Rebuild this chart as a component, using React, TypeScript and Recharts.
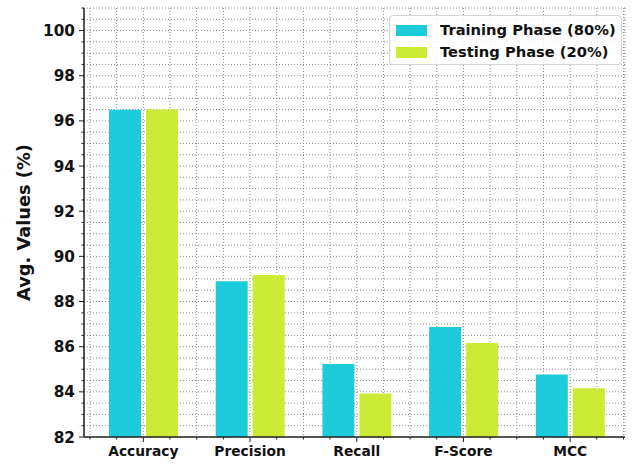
import { BarChart, Bar, XAxis, YAxis, CartesianGrid, Legend } from "recharts"

const metrics = ["Accuracy", "Precision", "Recall", "F-Score", "MCC"]
const trainingValues = [96.49, 88.9, 85.23, 86.87, 84.77]
const testingValues = [96.5, 89.17, 83.93, 86.16, 84.16]

const seriesNames = ["Training Phase (80%)", "Testing Phase (20%)"]
const seriesColors = ["#1ecbda", "#cbeb34"]

const yMajorTicks = [82, 84, 86, 88, 90, 92, 94, 96, 98, 100]
// minor ticks every 0.5 from 82 to 101
const yAllTicks = Array.from({ length: 39 }, (_, i) => 82 + i * 0.5)
// quarter steps across categories: vertical grid, minor ticks, and the labelled centers
const xQuarterTicks = Array.from({ length: 21 }, (_, i) => -0.5 + i * 0.25)

const data = metrics.map((metric, i) => ({
    metric,
    idx: i,
    training: trainingValues[i],
    testing: testingValues[i],
}))

const FONT = "'DejaVu Sans', sans-serif"
const AXIS = "#222"
const xPad = { left: 6, right: 1.5 }

function YTick(props: any) {
    const { x, y, payload } = props
    const v = payload.value
    const major = yMajorTicks.includes(v)
    return (
        <g>
            <line x1={x} x2={x - (major ? 5 : 2.5)} y1={y} y2={y} stroke={AXIS} strokeWidth={1} />
            {major && (
                <text
                    x={x - 9}
                    y={y}
                    dy="0.36em"
                    textAnchor="end"
                    fontFamily={FONT}
                    fontWeight="bold"
                    fontSize={15.3}
                    fill="#111"
                >
                    {v}
                </text>
            )}
        </g>
    )
}

function XTick(props: any) {
    const { x, y, payload } = props
    const v = payload.value
    const major = Number.isInteger(v) && v >= 0 && v < metrics.length
    return (
        <g>
            <line x1={x} x2={x} y1={y} y2={y + (major ? 5 : 2.5)} stroke={AXIS} strokeWidth={1} />
            {major && (
                <text
                    x={x}
                    y={y + 9}
                    dy="0.71em"
                    textAnchor="middle"
                    fontFamily={FONT}
                    fontWeight="bold"
                    fontSize={13.8}
                    fill="#111"
                >
                    {metrics[v]}
                </text>
            )}
        </g>
    )
}

function LegendBox() {
    return (
        <div
            style={{
                width: 233,
                height: 50,
                boxSizing: "border-box",
                border: "1px solid #d4d4d4",
                borderRadius: 4,
                background: "rgba(255,255,255,0.85)",
                fontFamily: FONT,
                fontWeight: "bold",
                fontSize: 14.7,
                color: "#111",
                paddingTop: 3,
            }}
        >
            {seriesNames.map((name, i) => (
                <div key={name} style={{ display: "flex", alignItems: "center", height: 22, marginLeft: 6 }}>
                    <span style={{ width: 31, height: 11, background: seriesColors[i], display: "inline-block" }} />
                    <span style={{ marginLeft: 13, lineHeight: "22px" }}>{name}</span>
                </div>
            ))}
        </div>
    )
}

export default function App() {
    return (
        <div style={{ position: "absolute", left: 0, top: 0, background: "#fff" }}>
            <BarChart
                width={636}
                height={465}
                data={data}
                margin={{ top: 8, right: 11, left: 0, bottom: 0 }}
                barSize={32}
                barGap={5}
            >
                <CartesianGrid
                    xAxisId="q"
                    stroke="#8c8c8c"
                    strokeDasharray="1 2"
                    strokeWidth={1}
                />
                <XAxis
                    xAxisId="q"
                    type="number"
                    dataKey="idx"
                    domain={[-0.5, 4.5]}
                    ticks={xQuarterTicks}
                    interval={0}
                    padding={xPad}
                    height={28}
                    tickSize={0}
                    tickMargin={0}
                    tickLine={false}
                    axisLine={{ stroke: AXIS, strokeWidth: 1.5 }}
                    tick={XTick}
                />
                {/* band axis that places the bars */}
                <XAxis dataKey="metric" padding={xPad} height={0} hide />
                <XAxis xAxisId="top" orientation="top" dataKey="metric" height={0} tick={false} tickLine={false} axisLine={{ stroke: AXIS, strokeWidth: 1.5 }} />
                <YAxis
                    domain={[82, 101]}
                    ticks={yAllTicks}
                    interval={0}
                    allowDataOverflow
                    width={84}
                    tickSize={0}
                    tickMargin={0}
                    axisLine={{ stroke: AXIS, strokeWidth: 1.5 }}
                    tickLine={false}
                    tick={YTick}
                    label={{
                        value: "Avg. Values (%)",
                        angle: -90,
                        position: "insideLeft",
                        dx: 19,
                        style: { fontFamily: FONT, fontWeight: "bold", fontSize: 17.8, fill: "#111", textAnchor: "middle" },
                    }}
                />
                <YAxis yAxisId="right" orientation="right" domain={[82, 101]} width={0} tick={false} tickLine={false} axisLine={{ stroke: AXIS, strokeWidth: 1.5 }} />
                <Legend
                    layout="horizontal"
                    verticalAlign="middle"
                    align="center"
                    content={() => <LegendBox />}
                    wrapperStyle={{ top: 15, left: 389, width: 233, height: 50 }}
                />
                <Bar dataKey="training" name={seriesNames[0]} fill={seriesColors[0]} isAnimationActive={false} />
                <Bar dataKey="testing" name={seriesNames[1]} fill={seriesColors[1]} isAnimationActive={false} />
            </BarChart>
        </div>
    )
}
